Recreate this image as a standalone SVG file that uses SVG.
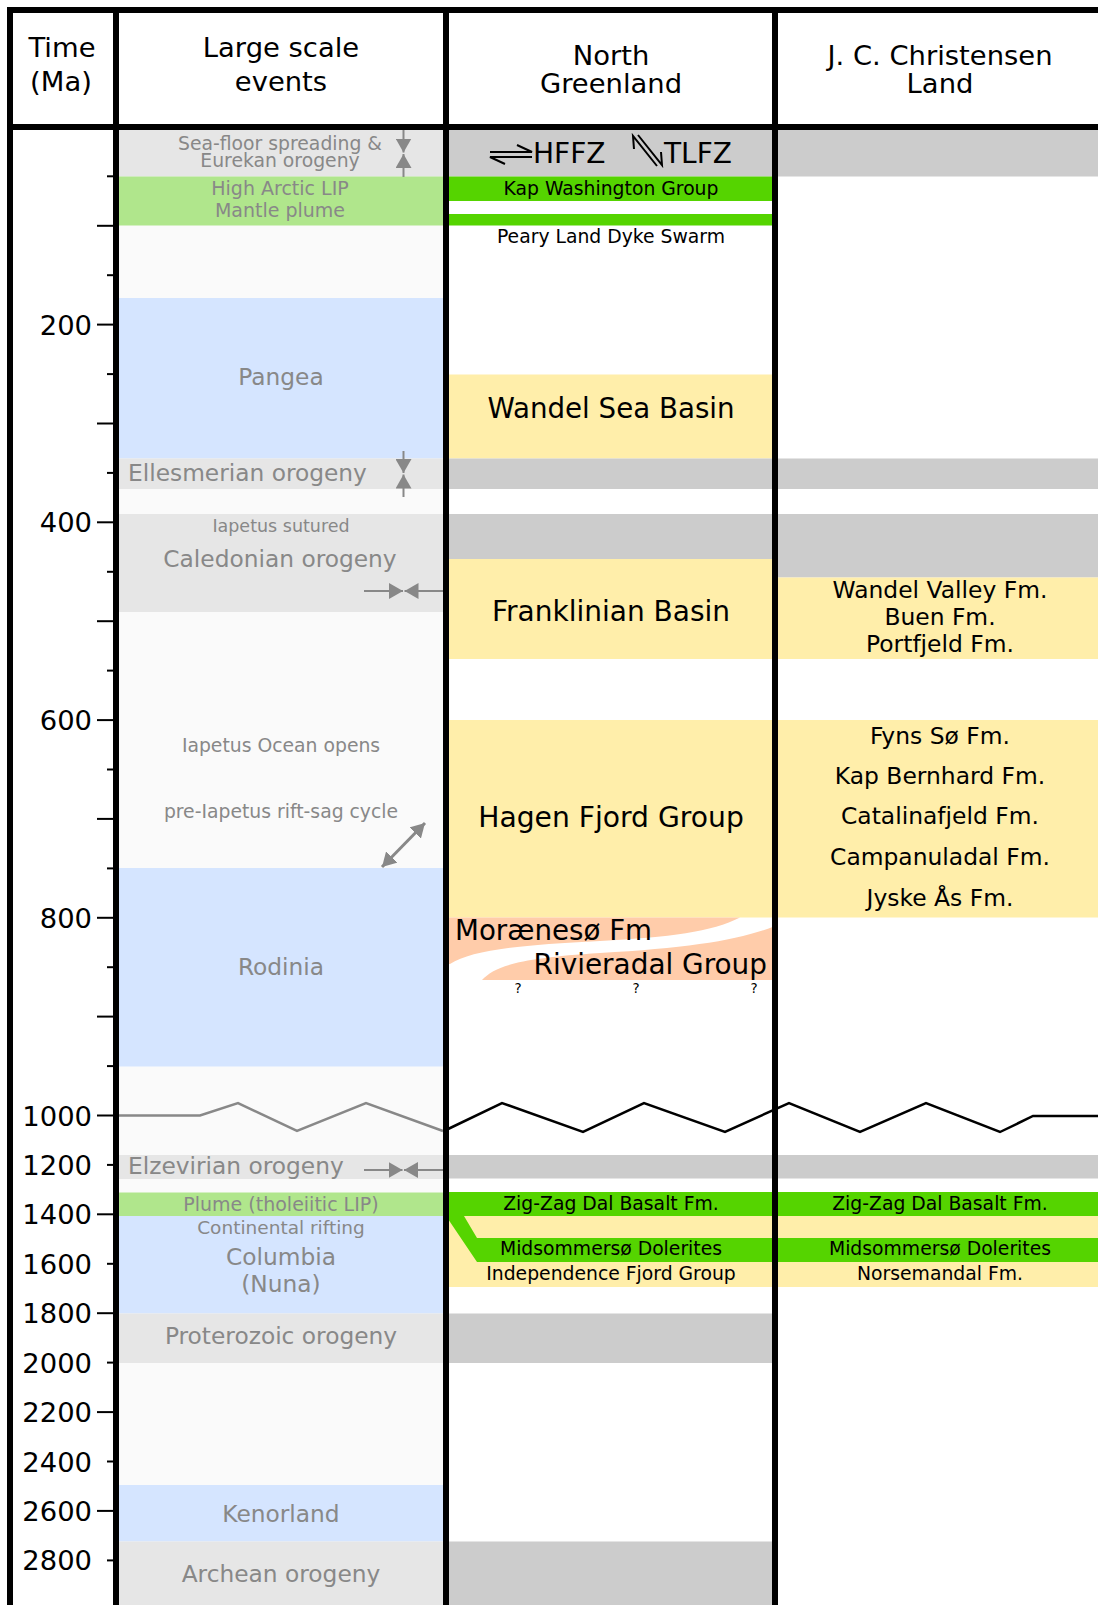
<svg xmlns="http://www.w3.org/2000/svg" width="1098" height="1605" viewBox="0 0 1098 1605">
<defs>
<style>
text { font-family: "DejaVu Sans", Verdana, sans-serif; }
.hd { font-size: 27.4px; fill: #000; text-anchor: middle; }
.tl { font-size: 27.4px; fill: #000; text-anchor: end; }
.ev { fill: #888; text-anchor: middle; }
.st { text-anchor: start; }
.L { font-size: 23.3px; }
.S { font-size: 18.8px; }
.blk { fill: #000; text-anchor: middle; }
.big { font-size: 27.7px; }
.jc { font-size: 23.4px; }
.g1 { fill: #e6e6e6; } .gr { fill: #b0e68c; } .bl { fill: #d5e5ff; }
.g2 { fill: #cccccc; } .ye { fill: #ffeeaa; } .lg { fill: #55d400; } .sa { fill: #ffccaa; }
.grid { stroke: #000; stroke-width: 6; fill: none; }
.tick { stroke: #000; stroke-width: 2; }
.arr { stroke: #888; stroke-width: 2; fill: none; marker-end: url(#ah); }
.sym { stroke: #000; stroke-width: 2; fill: none; }
</style>
<marker id="ah" viewBox="0 0 14 16" refX="14" refY="8" markerWidth="14" markerHeight="16" orient="auto-start-reverse" markerUnits="userSpaceOnUse"><path d="M0,0 L14,8 L0,16 Z" fill="#888"/></marker>
</defs>

<rect x="0" y="0" width="1098" height="1605" fill="#fff"/>

<g id="events-column">
<rect x="116" y="127" width="330" height="1478" fill="#fafafa"/>
<g id="seafloor"><rect class="g1" x="116" y="127" width="330" height="49.5"/>
<text class="ev S" x="280" y="149.5">Sea-floor spreading &amp;</text>
<text class="ev S" x="280" y="167">Eurekan orogeny</text></g>
<g id="higharctic"><rect class="gr" x="116" y="176.5" width="330" height="49"/>
<text class="ev" font-size="19" x="280" y="195">High Arctic LIP</text>
<text class="ev" font-size="19" x="280" y="217">Mantle plume</text></g>
<g id="pangea"><rect class="bl" x="116" y="298" width="330" height="160.5"/>
<text class="ev L" x="281" y="385">Pangea</text></g>
<g id="ellesmerian"><rect class="g1" x="116" y="458.5" width="330" height="30.5"/>
<text class="ev L st" x="128" y="481">Ellesmerian orogeny</text></g>
<g id="caledonian"><rect class="g1" x="116" y="514" width="330" height="98"/>
<text class="ev" font-size="17.5" x="281" y="532">Iapetus sutured</text>
<text class="ev L" x="280" y="567">Caledonian orogeny</text></g>
<g id="iapetus"><text class="ev S" x="281" y="752">Iapetus Ocean opens</text>
<text class="ev S" x="281" y="818">pre-Iapetus rift-sag cycle</text></g>
<g id="rodinia"><rect class="bl" x="116" y="868" width="330" height="198.5"/>
<text class="ev L" x="281" y="975">Rodinia</text></g>
<g id="elzevirian"><rect class="g1" x="116" y="1155" width="330" height="24"/>
<text class="ev L st" x="128" y="1173.5">Elzevirian orogeny</text></g>
<g id="plume"><rect class="gr" x="116" y="1192.5" width="330" height="23.5"/>
<text class="ev" font-size="19" x="281" y="1211">Plume (tholeiitic LIP)</text></g>
<g id="columbia"><rect class="bl" x="116" y="1216" width="330" height="97.5"/>
<text class="ev" font-size="18.5" x="281" y="1234">Continental rifting</text>
<text class="ev L" x="281" y="1265">Columbia</text>
<text class="ev L" x="281" y="1292">(Nuna)</text></g>
<g id="proterozoic"><rect class="g1" x="116" y="1313.5" width="330" height="49.5"/>
<text class="ev L" x="281" y="1344">Proterozoic orogeny</text></g>
<g id="kenorland"><rect class="bl" x="116" y="1485" width="330" height="56.5"/>
<text class="ev L" x="281" y="1522">Kenorland</text></g>
<g id="archean"><rect class="g1" x="116" y="1541.5" width="330" height="63.5"/>
<text class="ev L" x="281" y="1582">Archean orogeny</text></g>
</g>

<g id="north-greenland">
<g id="ng-eureka"><rect class="g2" x="446" y="127" width="329" height="49.5"/>
<path class="sym" d="M490 152 H532 L517 145 M532 157 H490 L505 164"/>
<text class="blk" font-size="28" x="533" y="163.3" style="text-anchor:start">HFFZ</text>
<path class="sym" d="M657 166 L633 136 L634 149 M638 135 L662 165 L661 152"/>
<text class="blk" font-size="28" x="664" y="163.3" style="text-anchor:start">TLFZ</text></g>
<g id="kap-washington"><rect class="lg" x="446" y="176.5" width="329" height="24.5"/>
<rect class="lg" x="446" y="214" width="329" height="11.5"/>
<text class="blk S" x="611" y="195">Kap Washington Group</text>
<text class="blk S" x="611" y="242.5">Peary Land Dyke Swarm</text></g>
<g id="wandel-sea"><rect class="ye" x="446" y="374.5" width="329" height="84"/>
<text class="blk big" x="611" y="418">Wandel Sea Basin</text></g>
<rect class="g2" x="446" y="458.5" width="329" height="30.5"/>
<rect class="g2" x="446" y="514" width="329" height="45"/>
<g id="franklinian"><rect class="ye" x="446" y="559" width="329" height="100"/>
<text class="blk" font-size="28" x="611" y="621">Franklinian Basin</text></g>
<g id="hagen-fjord"><rect class="ye" x="446" y="720" width="329" height="197.5"/>
<text class="blk" font-size="28.2" x="611" y="827">Hagen Fjord Group</text></g>
<g id="moraeneso"><path class="sa" d="M446 917.5 H740 C712 932 670 937 600 941 C520 945 472 950 450 964 L446 964 Z"/>
<text class="blk big" x="455" y="939.5" style="text-anchor:start">Morænesø Fm</text></g>
<g id="rivieradal"><path class="sa" d="M775 926 V980 H482 C495 966 520 958 600 953 C690 948 740 940 775 926 Z"/>
<text class="blk" font-size="27.9" x="767" y="973.5" style="text-anchor:end">Rivieradal Group</text>
<text class="blk" font-size="13.5" x="518" y="993">?</text>
<text class="blk" font-size="13.5" x="636" y="993">?</text>
<text class="blk" font-size="13.5" x="754" y="993">?</text></g>
<rect class="g2" x="446" y="1155" width="329" height="23.5"/>
<g id="ng-meso"><rect class="ye" x="446" y="1215" width="329" height="72"/>
<path class="lg" d="M446 1192 H775 V1216 H464 L477 1238 H775 V1262 H477 L446 1216 Z"/>
<text class="blk S" x="611" y="1210">Zig-Zag Dal Basalt Fm.</text>
<text class="blk S" x="611" y="1255">Midsommersø Dolerites</text>
<text class="blk S" x="611" y="1280">Independence Fjord Group</text></g>
<rect class="g2" x="446" y="1313.5" width="329" height="49.5"/>
<rect class="g2" x="446" y="1541.5" width="329" height="63.5"/>
</g>

<g id="jc-christensen">
<rect class="g2" x="775" y="127" width="323" height="49.5"/>
<rect class="g2" x="775" y="458.5" width="323" height="30.5"/>
<rect class="g2" x="775" y="514" width="323" height="63.5"/>
<g id="jc-wandel"><rect class="ye" x="775" y="577.5" width="323" height="81.5"/>
<text class="blk jc" x="940" y="597.5">Wandel Valley Fm.</text>
<text class="blk jc" x="940" y="624.5">Buen Fm.</text>
<text class="blk jc" x="940" y="651.5">Portfjeld Fm.</text></g>
<g id="jc-hagen"><rect class="ye" x="775" y="720" width="323" height="197.5"/>
<text class="blk jc" x="940" y="743.5">Fyns Sø Fm.</text>
<text class="blk jc" x="940" y="783.5">Kap Bernhard Fm.</text>
<text class="blk jc" x="940" y="824">Catalinafjeld Fm.</text>
<text class="blk jc" x="940" y="865">Campanuladal Fm.</text>
<text class="blk jc" x="940" y="906">Jyske Ås Fm.</text></g>
<rect class="g2" x="775" y="1155" width="323" height="23.5"/>
<g id="jc-meso"><rect class="ye" x="775" y="1215" width="323" height="72"/>
<rect class="lg" x="775" y="1192" width="323" height="24"/>
<rect class="lg" x="775" y="1238" width="323" height="24"/>
<text class="blk S" x="940" y="1210">Zig-Zag Dal Basalt Fm.</text>
<text class="blk S" x="940" y="1255">Midsommersø Dolerites</text>
<text class="blk S" x="940" y="1280">Norsemandal Fm.</text></g>
</g>

<g id="connectors">
<line class="arr" x1="403.5" y1="130" x2="403.5" y2="152.5"/>
<line class="arr" x1="403.5" y1="177" x2="403.5" y2="154"/>
<line class="arr" x1="403.5" y1="451" x2="403.5" y2="473"/>
<line class="arr" x1="403.5" y1="497" x2="403.5" y2="474.5"/>
<line class="arr" x1="364" y1="591" x2="403" y2="591"/>
<line class="arr" x1="443" y1="591" x2="404.5" y2="591"/>
<line class="arr" x1="364" y1="1170" x2="402.5" y2="1170"/>
<line class="arr" x1="443" y1="1170" x2="404" y2="1170"/>
<line stroke="#888" stroke-width="3" x1="425" y1="823" x2="382" y2="867" marker-start="url(#ah)" marker-end="url(#ah)"/>
<polyline fill="none" stroke="#888" stroke-width="2.5" points="119,1115.5 200,1115.5 238,1103 297,1131 366,1103 443,1131"/>
<polyline fill="none" stroke="#000" stroke-width="2.5" points="446,1130 502,1103 583,1132 644,1103 725,1132 789,1103 860,1132 926,1103 1000,1132 1033,1116 1098,1116"/>
</g>

<g id="time-axis">
<g class="tick">
<line x1="107" y1="176.3" x2="116" y2="176.3"/><line x1="97" y1="225.8" x2="116" y2="225.8"/>
<line x1="107" y1="275.2" x2="116" y2="275.2"/><line x1="97" y1="324.6" x2="116" y2="324.6"/>
<line x1="107" y1="374.1" x2="116" y2="374.1"/><line x1="97" y1="423.5" x2="116" y2="423.5"/>
<line x1="107" y1="472.9" x2="116" y2="472.9"/><line x1="97" y1="522.3" x2="116" y2="522.3"/>
<line x1="107" y1="571.8" x2="116" y2="571.8"/><line x1="97" y1="621.2" x2="116" y2="621.2"/>
<line x1="107" y1="670.6" x2="116" y2="670.6"/><line x1="97" y1="720.1" x2="116" y2="720.1"/>
<line x1="107" y1="769.5" x2="116" y2="769.5"/><line x1="97" y1="818.9" x2="116" y2="818.9"/>
<line x1="107" y1="868.4" x2="116" y2="868.4"/><line x1="97" y1="917.8" x2="116" y2="917.8"/>
<line x1="107" y1="967.2" x2="116" y2="967.2"/><line x1="97" y1="1016.6" x2="116" y2="1016.6"/>
<line x1="107" y1="1066.1" x2="116" y2="1066.1"/><line x1="97" y1="1115.5" x2="116" y2="1115.5"/>
<line x1="107" y1="1164.9" x2="116" y2="1164.9"/><line x1="97" y1="1214.3" x2="116" y2="1214.3"/>
<line x1="107" y1="1263.8" x2="116" y2="1263.8"/><line x1="97" y1="1313.2" x2="116" y2="1313.2"/>
<line x1="107" y1="1362.6" x2="116" y2="1362.6"/><line x1="97" y1="1412.1" x2="116" y2="1412.1"/>
<line x1="107" y1="1461.5" x2="116" y2="1461.5"/><line x1="97" y1="1510.9" x2="116" y2="1510.9"/>
<line x1="107" y1="1560.4" x2="116" y2="1560.4"/>
</g>
<text class="tl" x="92" y="334.6">200</text>
<text class="tl" x="92" y="532.3">400</text>
<text class="tl" x="92" y="730.1">600</text>
<text class="tl" x="92" y="927.8">800</text>
<text class="tl" x="92" y="1125.5">1000</text>
<text class="tl" x="92" y="1174.9">1200</text>
<text class="tl" x="92" y="1224.3">1400</text>
<text class="tl" x="92" y="1273.8">1600</text>
<text class="tl" x="92" y="1323.2">1800</text>
<text class="tl" x="92" y="1372.6">2000</text>
<text class="tl" x="92" y="1422.1">2200</text>
<text class="tl" x="92" y="1471.5">2400</text>
<text class="tl" x="92" y="1520.9">2600</text>
<text class="tl" x="92" y="1570.4">2800</text>
</g>

<g id="headers">
<text class="hd" x="62" y="57">Time</text>
<text class="hd" x="61" y="91">(Ma)</text>
<text class="hd" x="281" y="57">Large scale</text>
<text class="hd" x="281" y="91">events</text>
<text class="hd" x="611" y="65">North</text>
<text class="hd" x="611" y="93">Greenland</text>
<text class="hd" x="940" y="65">J. C. Christensen</text>
<text class="hd" x="940" y="93">Land</text>
</g>

<g id="grid">
<line class="grid" x1="7" y1="10" x2="1098" y2="10"/>
<line class="grid" x1="7" y1="127" x2="1098" y2="127"/>
<line class="grid" x1="10" y1="7" x2="10" y2="1605"/>
<line class="grid" x1="116" y1="7" x2="116" y2="1605"/>
<line class="grid" x1="446" y1="7" x2="446" y2="1605"/>
<line class="grid" x1="775" y1="7" x2="775" y2="1605"/>
</g>
</svg>
